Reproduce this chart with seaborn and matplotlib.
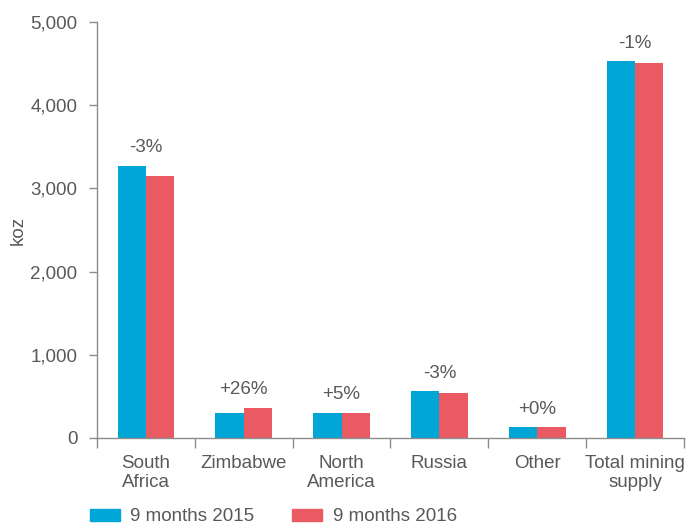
import matplotlib
matplotlib.use("Agg")
import matplotlib.pyplot as plt
import seaborn as sns
import pandas as pd

categories = ["South\nAfrica", "Zimbabwe", "North\nAmerica", "Russia", "Other", "Total mining\nsupply"]
series_names = ["9 months 2015", "9 months 2016"]
values_2015 = [3270, 300, 300, 560, 130, 4530]
values_2016 = [3155, 360, 305, 535, 130, 4505]
changes = ["-3%", "+26%", "+5%", "-3%", "+0%", "-1%"]
yticks = [0, 1000, 2000, 3000, 4000, 5000]

colors = ["#00A6D5", "#EA5A63"]
text_color = "#595959"
axis_color = "#8C8C8C"
fs = 13.5

sns.set_theme(style="white")
plt.rcParams["font.family"] = ["Liberation Sans", "DejaVu Sans"]

df = pd.DataFrame({
    "category": categories * 2,
    "series": [series_names[0]] * len(categories) + [series_names[1]] * len(categories),
    "value": values_2015 + values_2016,
})

fig = plt.figure(figsize=(6.86, 5.27), dpi=100)
ax = fig.add_axes([0.1414, 0.1689, 0.997 - 0.1414, 0.958 - 0.1689])

sns.barplot(data=df, x="category", y="value", hue="series", order=categories,
            hue_order=series_names, palette=colors, width=0.58, gap=0,
            saturation=1, ax=ax, legend=True, errorbar=None, linewidth=0)

ax.set_xlim(-0.5, len(categories) - 0.5)
ax.set_ylim(0, 5000)
ax.set_yticks(yticks)
ax.set_yticklabels([f"{v:,}" for v in yticks])
ax.set_ylabel("koz", color=text_color, fontsize=fs, labelpad=3)
ax.set_xlabel("")

for s in ["top", "right"]:
    ax.spines[s].set_visible(False)
for s in ["left", "bottom"]:
    ax.spines[s].set_color(axis_color)
    ax.spines[s].set_linewidth(1.0)

ax.tick_params(axis="y", which="major", direction="out", length=6, width=1,
               color=axis_color, labelcolor=text_color, labelsize=fs, pad=8, left=True)
ax.tick_params(axis="x", which="major", length=0, labelcolor=text_color, labelsize=fs, pad=12)
ax.set_xticks([i - 0.5 for i in range(len(categories) + 1)], minor=True)
ax.tick_params(axis="x", which="minor", direction="out", length=7, width=1,
               color=axis_color, bottom=True)
for lbl in ax.get_xticklabels():
    lbl.set_linespacing(1.2)

for i, txt in enumerate(changes):
    top = max(values_2015[i], values_2016[i])
    ax.annotate(txt, xy=(i, top), xytext=(0, 13), textcoords="offset points",
                ha="center", va="center", fontsize=fs, color=text_color)

ax.get_legend().remove()
handles = [plt.Rectangle((0, 0), 1, 1, color=c) for c in colors]
fig.legend(handles, series_names, loc="lower left", bbox_to_anchor=(0.106, -0.029),
           ncol=2, frameon=False, fontsize=fs, handlelength=1.6, handleheight=0.65,
           handletextpad=0.55, columnspacing=2.05, labelcolor=text_color)

fig.savefig("out.png", dpi=100)
